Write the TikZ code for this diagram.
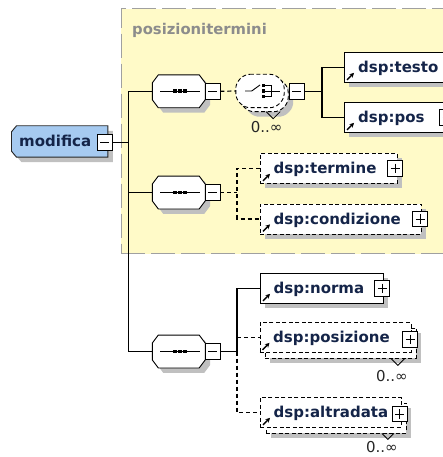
\documentclass[tikz,border=0pt]{standalone}
\usepackage{fontspec}
\setmainfont{DejaVu Sans}
\usetikzlibrary{shadows,arrows.meta}

\definecolor{grpfill}{RGB}{255,250,200}
\definecolor{grpline}{RGB}{160,160,160}
\definecolor{grptext}{RGB}{140,140,140}
\definecolor{shade}{RGB}{192,192,192}
\definecolor{rootfill}{RGB}{166,202,240}
\definecolor{nametext}{RGB}{20,36,72}

\tikzset{
  conn/.style={line width=1.2pt, draw=black},
  optconn/.style={conn, dash pattern=on 4pt off 3pt},
  shadowed/.style={drop shadow={shadow xshift=5pt, shadow yshift=-5pt, fill=shade, opacity=1}},
  elembox/.style={rectangle, draw=black, line width=0.9pt, fill=white, inner sep=0pt,
    anchor=north west, minimum height=30pt},
  optbox/.style={elembox, dash pattern=on 4pt off 2.5pt},
  btnminus/.style={rectangle, draw=black, line width=0.9pt, fill=white, inner sep=0pt,
    minimum width=15pt, minimum height=15.5pt,
    path picture={\draw[line width=0.9pt]
      ([xshift=3pt]path picture bounding box.west) -- ([xshift=-3pt]path picture bounding box.east);}},
  btnplus/.style={rectangle, draw=black, line width=0.9pt, fill=white, inner sep=0pt,
    minimum width=15pt, minimum height=15.5pt,
    path picture={\draw[line width=0.9pt]
      ([xshift=3pt]path picture bounding box.west) -- ([xshift=-3pt]path picture bounding box.east)
      ([yshift=-3pt]path picture bounding box.north) -- ([yshift=3pt]path picture bounding box.south);}},
  % invisible frame that an outline is drawn round
  frame/.style={rectangle, inner sep=0pt, draw=none},
  % octagon round a named frame: node, horizontal chamfer, vertical chamfer
  octpath/.style n args={3}{insert path={
    ([xshift=#2]#1.north west) -- ([xshift=-#2]#1.north east) -- ([yshift=-#3]#1.north east)
    -- ([yshift=#3]#1.south east) -- ([xshift=-#2]#1.south east) -- ([xshift=#2]#1.south west)
    -- ([yshift=#3]#1.south west) -- ([yshift=-#3]#1.north west) -- cycle}},
  rootpath/.style={insert path={
    ([xshift=5pt]#1.north west) -- (#1.north east) -- (#1.south east) -- ([xshift=5pt]#1.south west)
    -- ([yshift=6pt]#1.south west) -- ([yshift=-6pt]#1.north west) -- cycle}},
  outline/.style={draw=black, line width=0.9pt, fill=white},
  choiceline/.style={outline, dash pattern=on 4pt off 2.5pt},
  ename/.style={anchor=base west, inner sep=0pt, text=nametext,
    font=\fontsize{15}{16}\selectfont\bfseries},
  occurs/.style={anchor=base, inner sep=0pt, text=black!85, font=\fontsize{15}{16}\selectfont},
  refarrow/.style={line width=1.3pt, -{Stealth[length=4.5pt,width=4.8pt]}},
  vmark/.style={line width=0.8pt},
}

\begin{document}
\begin{tikzpicture}[x=1pt,y=-1pt]
\useasboundingbox (0,0) rectangle (443,457);
\clip (0,0) rectangle (443,457);

% the model group
\node[rectangle, draw=grpline, line width=1.3pt, dash pattern=on 24pt off 6pt, fill=grpfill,
  anchor=north west, minimum width=360pt, minimum height=245pt, inner sep=0pt] (grp) at (120.5,8) {};
\node[anchor=base west, inner sep=0pt, text=grptext, font=\fontsize{14.8}{16}\selectfont\bfseries]
  (grplabel) at (132,35) {posizionitermini};

% root element
\node[frame, minimum width=96pt, minimum height=31pt] (modifica) at (59.7,141.5) {};
\begin{scope}[transform canvas={shift={(5pt,-5pt)}}]
  \path[fill=shade, rootpath=modifica];
\end{scope}
\path[draw=black!85, line width=0.9pt, fill=rootfill, rootpath=modifica];
\node[ename] (modifica-t) at (19,146.7) {modifica};
\node[btnminus] (modifica-btn) at (104.7,142.3) {};

% sequence compositors
\node[frame, minimum width=52.5pt, minimum height=32.5pt] (seq1) at (178.75,91.3) {};
\node[frame, minimum width=52.5pt, minimum height=32.5pt] (seq2) at (178.75,192.5) {};
\node[frame, minimum width=52.5pt, minimum height=32.5pt] (seq3) at (178.75,351.5) {};
\foreach \s in {seq1,seq2,seq3}{
  \begin{scope}[transform canvas={shift={(5pt,-5pt)}}]
    \path[fill=shade, octpath={\s}{6pt}{8pt}];
  \end{scope}
  \path[outline, octpath={\s}{6pt}{8pt}];
  \begin{scope}[shift={(\s.center)}]
    \draw[line width=0.9pt] (-18.75,0) -- (21.25,0);
    \foreach \dx in {-3.75,1.25,6.25}
      \fill (\dx-1.8,-1.8) rectangle (\dx+1.8,1.8);
  \end{scope}
}
\node[btnminus] (seq1-btn) at (212.5,91.3) {};
\node[btnminus] (seq2-btn) at (212.5,192.5) {};
\node[btnminus] (seq3-btn) at (212.5,351.5) {};

% trunk from the root
\coordinate (t1) at (128.5,91.3);
\coordinate (t3) at (128.5,351.5);
\draw[conn] (modifica-btn.east) -- (modifica-btn.east -| t1);
\draw[conn] (seq1.west) -| (t3) -- (seq3.west);
\draw[conn] (t1 |- seq2.west) -- (seq2.west);

% choice compositor (0..unbounded)
\node[frame, minimum width=48pt, minimum height=33pt] (choice-back) at (264,95) {};
\node[frame, minimum width=48pt, minimum height=33pt] (choice) at (260,91) {};
\begin{scope}[transform canvas={shift={(5pt,-5pt)}}]
  \path[fill=shade, rounded corners=5pt, octpath={choice-back}{9pt}{9pt}];
\end{scope}
\path[choiceline, rounded corners=5pt, octpath={choice-back}{9pt}{9pt}];
\path[choiceline, rounded corners=5pt, octpath={choice}{9pt}{9pt}];
\begin{scope}[shift={(choice.center)}]
  \draw[line width=0.9pt] (-15,0) -- (-8.3,0) -- (0,-6);
  \foreach \dy in {-5.5,0,5.5}
    \fill (1.5,\dy-1.8) rectangle (4.8,\dy+1.8);
  \draw[line width=0.9pt] (5,-5.5) -- (11.7,-5.5) -- (11.7,5.5) -- (5,5.5)
    (5,0) -- (20,0);
\end{scope}
\draw[vmark] ([xshift=-22pt]choice-back.south east) -- ++(7,7) -- ++(7,-7);
\node[occurs] (choice-o) at ([xshift=-21.5pt,yshift=-21pt]choice-back.south east) {0..∞};
\node[btnminus] (choice-btn) at (296.5,91.3) {};
\draw[optconn] (seq1-btn.east) -- (choice.west);

% choice children
\node[elembox, shadowed, minimum width=140pt] (testo) at (344,52) {};
\node[ename] (testo-t) at ([xshift=14pt,yshift=10pt]testo.south west) {dsp:testo};
\draw[refarrow] ([xshift=3pt,yshift=3pt]testo.south west) -- ++(7,-7);

\node[elembox, shadowed, minimum width=104pt] (pos) at (344,102) {};
\node[ename] (pos-t) at ([xshift=14pt,yshift=10pt]pos.south west) {dsp:pos};
\draw[refarrow] ([xshift=3pt,yshift=3pt]pos.south west) -- ++(7,-7);
\node[btnplus] (pos-btn) at ([xshift=-1.5pt]pos.east) {};

\coordinate (j1) at (322,91.3);
\draw[conn] (choice-btn.east) -- (j1);
\draw[conn] (testo.west) -| (j1) |- (pos.west);

% second sequence: optional elements
\node[optbox, shadowed, minimum width=137pt] (termine) at (260,153) {};
\node[ename] (termine-t) at ([xshift=13.5pt,yshift=10pt]termine.south west) {dsp:termine};
\draw[refarrow] ([xshift=3pt,yshift=3pt]termine.south west) -- ++(7,-7);
\node[btnplus] (termine-btn) at ([xshift=-2.5pt]termine.east) {};

\node[optbox, shadowed, minimum width=161pt] (condizione) at (260,203.5) {};
\node[ename] (condizione-t) at ([xshift=13.5pt,yshift=10pt]condizione.south west) {dsp:condizione};
\draw[refarrow] ([xshift=3pt,yshift=3pt]condizione.south west) -- ++(7,-7);
\node[btnplus] (condizione-btn) at ([xshift=-1.5pt]condizione.east) {};

\coordinate (j2) at (237,192.5);
\draw[optconn] (seq2-btn.east) -- (j2);
\draw[optconn] (termine.west) -| (j2) |- (condizione.west);

% third sequence
\node[elembox, shadowed, minimum width=123pt] (norma) at (260,273) {};
\node[ename] (norma-t) at ([xshift=13.5pt,yshift=10pt]norma.south west) {dsp:norma};
\draw[refarrow] ([xshift=3pt,yshift=3pt]norma.south west) -- ++(7,-7);
\node[btnplus] (norma-btn) at ([xshift=-1.5pt]norma.east) {};

\node[optbox, shadowed, minimum width=151pt] (posizione-back) at (265,327.5) {};
\node[optbox, minimum width=151pt] (posizione) at (259.5,322) {};
\node[ename] (posizione-t) at ([xshift=13.5pt,yshift=10pt]posizione.south west) {dsp:posizione};
\draw[refarrow] ([xshift=3pt,yshift=3pt]posizione.south west) -- ++(7,-7);
\node[btnplus] (posizione-btn) at ([xshift=-1pt,yshift=-2pt]posizione.east) {};
\draw[vmark] ([xshift=-26pt]posizione-back.south east) -- ++(7,7) -- ++(7,-7);
\node[occurs] (posizione-o) at ([xshift=-25pt,yshift=-23pt]posizione-back.south east) {0..∞};

\node[optbox, shadowed, minimum width=140.5pt] (altradata-back) at (265.5,402.5) {};
\node[optbox, minimum width=140.5pt] (altradata) at (260,397) {};
\node[ename] (altradata-t) at ([xshift=13.5pt,yshift=10pt]altradata.south west) {dsp:altradata};
\draw[refarrow] ([xshift=3pt,yshift=3pt]altradata.south west) -- ++(7,-7);
\node[btnplus] (altradata-btn) at ([xshift=-1.5pt,yshift=-1.5pt]altradata.east) {};
\draw[vmark] ([xshift=-25pt]altradata-back.south east) -- ++(6,6) -- ++(6,-6);
\node[occurs] (altradata-o) at ([xshift=-25pt,yshift=-19.5pt]altradata-back.south east) {0..∞};

\coordinate (j3) at (237,351.5);
\draw[conn] (seq3-btn.east) -- (j3) |- (norma.west);
\draw[optconn] (j3) |- (posizione.west);
\draw[optconn] (j3) |- (altradata.west);
\end{tikzpicture}
\end{document}
